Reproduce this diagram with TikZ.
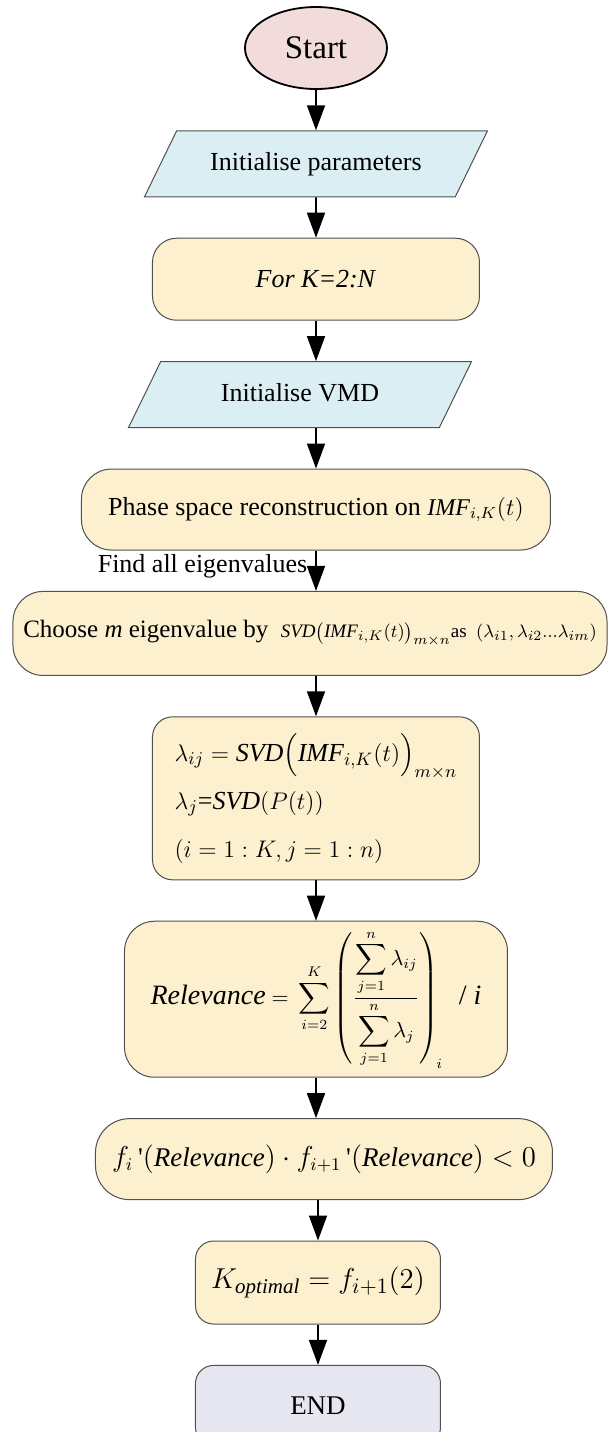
\documentclass[tikz,border=0pt]{standalone}
\usepackage{amsmath}
\usepackage{fontspec}
\setmainfont{Liberation Serif}
\definecolor{startpink}{RGB}{242,220,219}
\definecolor{ioblue}{RGB}{219,238,244}
\definecolor{procyellow}{RGB}{253,240,206}
\definecolor{endgray}{RGB}{230,230,240}
\definecolor{edgegray}{RGB}{80,80,80}
\usepackage{tikz}
\usetikzlibrary{shapes.geometric,arrows.meta,positioning}

\begin{document}
\begin{tikzpicture}[node distance=20.2pt]
  \tikzstyle{terminal}=[ellipse,draw=black,line width=0.9pt,fill=startpink,minimum width=71pt,minimum height=41pt,inner sep=0pt,font=\fontsize{16.5}{18}\selectfont]
  \tikzstyle{io}=[trapezium,trapezium left angle=64,trapezium right angle=116,trapezium stretches body=true,draw=edgegray,line width=0.5pt,fill=ioblue,minimum width=171.5pt,text height=9.5pt,text depth=3pt,inner xsep=0pt,inner ysep=10.25pt,font=\fontsize{13}{15}\selectfont]
  \tikzstyle{process}=[rectangle,draw=edgegray,line width=0.5pt,fill=procyellow,rounded corners=15pt,inner sep=0pt,align=center,font=\fontsize{13}{15}\selectfont]
  \tikzstyle{finish}=[rectangle,draw=edgegray,line width=0.5pt,fill=endgray,rounded corners=9pt,inner sep=0pt,font=\fontsize{13.5}{15}\selectfont]
  \tikzstyle{flow}=[line width=0.8pt,-{Triangle[length=12.5pt,width=9pt]}]

  \useasboundingbox (-158pt,24pt) rectangle (146.5pt,-692pt);

  \node[terminal] (start) at (0,0) {Start};
  \node[io,below=of start] (param) {Initialise parameters};
  \node[process,below=of param,minimum width=163.5pt,minimum height=41pt,rounded corners=12pt] (fork) {\textit{For K=2:N}};
  \node[io,below=of fork,xshift=-8pt] (vmd) {Initialise VMD};
  \node[process,below=of vmd,xshift=8pt,minimum width=234.5pt,minimum height=40.5pt] (phase) {Phase space reconstruction on {\fontsize{12}{14}\selectfont$\mathit{IMF}_{i,K}(t)$}};
  \node[process,below=of phase,xshift=-3pt,minimum width=297pt,minimum height=42pt,font=\fontsize{12.5}{15}\selectfont] (choose) {Choose \textit{m} eigenvalue by\enspace{\fontsize{9.5}{12}\selectfont$\mathit{SVD}\bigl(\mathit{IMF}_{i,K}(t)\bigr)_{m\times n}$as\enspace$(\lambda_{i1},\lambda_{i2}...\lambda_{im})$}};
  \node[process,below=of choose,xshift=3pt,minimum width=163.5pt,minimum height=81.5pt,rounded corners=10pt,align=left,font=\fontsize{13}{24}\selectfont] (svd) {$\lambda_{ij}=\mathit{SVD}\Bigl(\mathit{IMF}_{i,K}(t)\Bigr)_{m\times n}$\\$\lambda_j$=$\mathit{SVD}(P(t))$\\$(i=1:K,j=1:n)$};
  \node[process,below=of svd,minimum width=191.5pt,minimum height=78pt,font=\fontsize{10.5}{13}\selectfont] (rel) {$\displaystyle\text{\fontsize{14}{16}\selectfont\itshape Relevance}\;{=}\;\sum_{i=2}^{K}\left(\frac{\displaystyle\sum_{j=1}^{n}\lambda_{ij}}{\displaystyle\sum_{j=1}^{n}\lambda_j}\right)_{\!i}\;\;\text{\fontsize{14}{16}\selectfont/ \itshape i}$};
  \node[process,below=of rel,xshift=4pt,minimum width=228.5pt,minimum height=40.5pt,rounded corners=17pt,font=\fontsize{13.5}{16}\selectfont] (cond) {$f_i\,\text{\textquotesingle}(\mathit{Relevance})\cdot f_{i+1}\,\text{\textquotesingle}(\mathit{Relevance})<0$};
  \node[process,below=of cond,xshift=-3pt,minimum width=122.5pt,minimum height=41.5pt,rounded corners=9pt,font=\fontsize{15}{17}\selectfont] (kopt) {$K_{\mathit{optimal}}=f_{i+1}(2)$};
  \node[finish,below=of kopt,minimum width=122.5pt,minimum height=40pt] (endn) {END};

  \draw[flow] (start) -- (param);
  \draw[flow] (param) -- (fork);
  \draw[flow] (fork.south) -- (fork.south |- vmd.north);
  \draw[flow] (phase.north |- vmd.south) -- (phase.north);
  \draw[flow] (phase.south) -- node[left,font=\fontsize{13}{15}\selectfont,inner sep=4pt,yshift=2pt] {Find all eigenvalues} (phase.south |- choose.north);
  \draw[flow] (svd.north |- choose.south) -- (svd.north);
  \draw[flow] (svd) -- (rel);
  \draw[flow] (rel.south) -- (rel.south |- cond.north);
  \draw[flow] (kopt.north |- cond.south) -- (kopt.north);
  \draw[flow] (kopt) -- (endn);
\end{tikzpicture}
\end{document}
